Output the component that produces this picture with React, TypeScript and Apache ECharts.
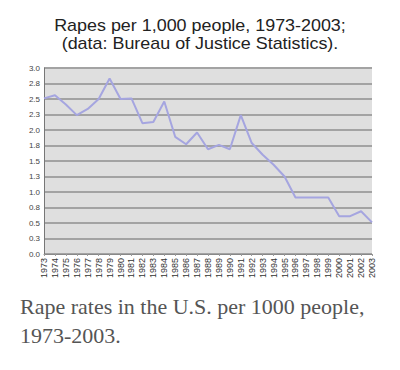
import React, { useEffect, useRef } from "react";
import * as echarts from "echarts";

const years: string[] = [
  "1973","1974","1975","1976","1977","1978","1979","1980","1981","1982",
  "1983","1984","1985","1986","1987","1988","1989","1990","1991","1992",
  "1993","1994","1995","1996","1997","1998","1999","2000","2001","2002","2003",
];
const rates: number[] = [
  2.51, 2.56, 2.41, 2.24, 2.34, 2.5, 2.83, 2.5, 2.51, 2.11,
  2.13, 2.46, 1.89, 1.77, 1.96, 1.69, 1.76, 1.69, 2.24, 1.79,
  1.6, 1.44, 1.25, 0.91, 0.91, 0.91, 0.91, 0.61, 0.61, 0.69, 0.51,
];
const titleLines: string[] = [
  "Rapes per 1,000 people, 1973-2003;",
  "(data: Bureau of Justice Statistics).",
];
const captionLines: string[] = [
  "Rape rates in the U.S. per 1000 people,",
  "1973-2003.",
];

export default function App() {
  const ref = useRef<HTMLDivElement>(null);
  useEffect(() => {
    if (!ref.current) return;
    const chart = echarts.init(ref.current, null, { renderer: "svg" });
    const sans = "Liberation Sans, Arial, sans-serif";
    chart.setOption({
      animation: false,
      backgroundColor: "#ffffff",
      grid: { left: 44, right: 28, top: 68, bottom: 116, show: true, backgroundColor: "#dfdfdf", borderWidth: 0 },
      xAxis: {
        type: "category",
        data: years,
        boundaryGap: false,
        axisLine: { show: true, lineStyle: { color: "#888888", width: 1 } },
        axisTick: { show: true, alignWithLabel: true, length: 2, lineStyle: { color: "#999999" } },
        axisLabel: {
          interval: 0,
          rotate: 90,
          fontSize: 9,
          color: "#333333",
          margin: 4,
          fontFamily: sans,
        },
        splitLine: { show: false },
      },
      yAxis: {
        type: "value",
        min: 0,
        max: 3,
        interval: 0.25,
        axisLine: { show: true, lineStyle: { color: "#777777", width: 1 } },
        axisTick: { show: false },
        axisLabel: {
          fontSize: 8,
          color: "#444444",
          margin: 4,
          fontFamily: sans,
          formatter: (v: number) => v.toFixed(1),
        },
        splitLine: { show: true, lineStyle: { color: "#a3a3a3", width: 2 } },
      },
      series: [
        {
          type: "line",
          data: rates,
          symbol: "none",
          lineStyle: { color: "#a5a5e0", width: 2 },
        },
      ],
      graphic: [
        ...titleLines.map((t, i) => ({
          type: "text",
          x: 200,
          y: 18 + i * 17.5,
          scaleX: 1.12,
          style: {
            text: t,
            font: `16px ${sans}`,
            fill: "#222222",
            align: "center",
            verticalAlign: "top",
          },
        })),
        ...captionLines.map((t, i) => ({
          type: "text",
          x: 20,
          y: 297 + i * 29,
          scaleX: 1.1,
          style: {
            text: t,
            font: "20px 'Liberation Serif', 'Times New Roman', serif",
            fill: "#555555",
            align: "left",
            verticalAlign: "top",
          },
        })),
      ],
    });
    return () => chart.dispose();
  }, []);
  return (
    <div
      ref={ref}
      style={{ position: "absolute", left: 0, top: 0, width: 400, height: 370 }}
    />
  );
}
